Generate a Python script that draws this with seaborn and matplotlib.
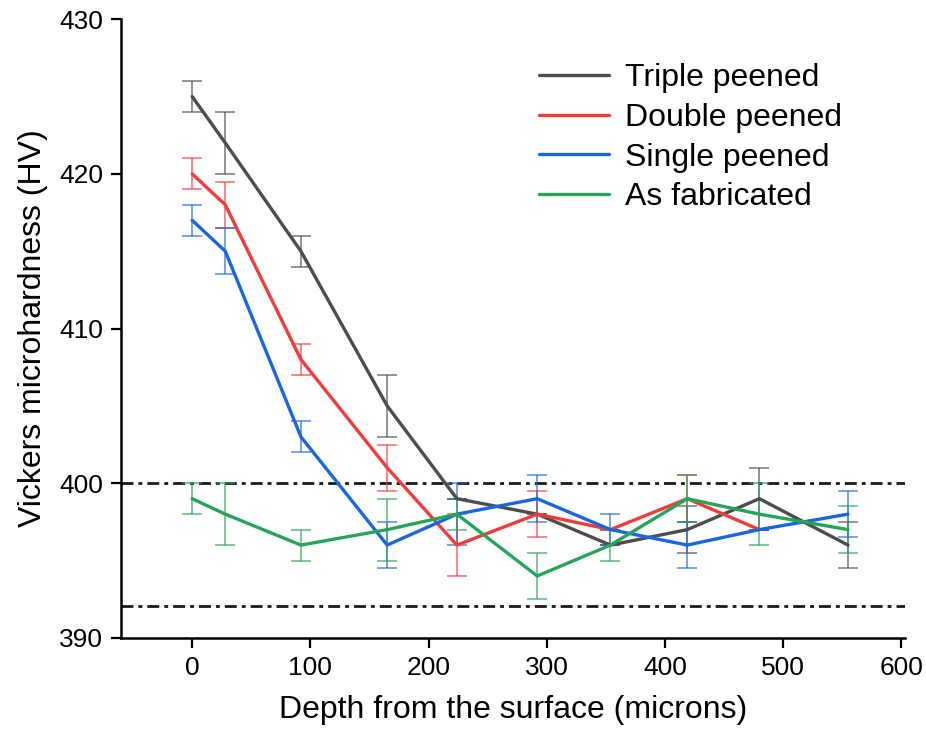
import numpy as np
import pandas as pd
import seaborn as sns
import matplotlib.pyplot as plt

sns.set_theme(style="ticks", rc={
    "text.color": "black", "axes.labelcolor": "black", "axes.edgecolor": "black",
    "xtick.color": "black", "ytick.color": "black",
})
plt.rcParams["font.family"] = ["Liberation Sans", "DejaVu Sans"]

# %% data
depth = [0, 28, 92, 165, 224, 292, 354, 419, 480, 555]

triple = [425, 422, 415, 405, 399, 398, 396, 397, 399, 396]
triple_err = [1, 2, 1, 2, 0, 0, 0, 1.5, 2, 1.5]

double = [420, 418, 408, 401, 396, 398, 397, 399, 397]
double_err = [1, 1.5, 1, 1.5, 2, 1.5, 0, 1.5, 0]

single = [417, 415, 403, 396, 398, 399, 397, 396, 397, 398]
single_err = [1, 1.5, 1, 1.5, 2, 1.5, 1, 1.5, 0, 1.5]

as_fab = [399, 398, 396, 397, 398, 394, 396, 399, 398, 397]
as_fab_err = [1, 2, 1, 2, 1, 1.5, 1, 1.5, 2, 1.5]

labels = ["Triple peened", "Double peened", "Single peened", "As fabricated"]
colors = ["#4d4d4d", "#f23c3c", "#1a66e0", "#28a45a"]
ref_lines = [400.0, 392.05]

series = [(triple, triple_err), (double, double_err), (single, single_err), (as_fab, as_fab_err)]

frames = []
for lab, (vals, errs) in zip(labels, series):
    frames.append(pd.DataFrame({
        "depth": depth[:len(vals)],
        "hv": vals,
        "err": errs,
        "treatment": lab,
    }))
df = pd.concat(frames, ignore_index=True)

# %%
fig, ax = plt.subplots(figsize=(9.26, 7.40), dpi=100)
fig.subplots_adjust(left=0.131, right=0.977, top=0.974, bottom=0.138)

for y in ref_lines:
    ax.axhline(y, color="k", lw=2.0, dashes=(4.3, 1.8, 1.4, 1.8), zorder=1)

sns.lineplot(
    data=df,
    x="depth",
    y="hv",
    hue="treatment",
    hue_order=labels,
    palette=colors,
    lw=2.4,
    ax=ax,
    zorder=3,
)

for lab, col in zip(labels, colors):
    d = df[df.treatment == lab]
    ax.errorbar(
        d.depth, d.hv, yerr=d.err, fmt="none",
        ecolor=col, alpha=0.65, elinewidth=1.3, capsize=7, capthick=1.3, zorder=2,
    )

ax.set_xlim(-60, 603)
ax.set_ylim(390, 430)
ax.set_xticks([0, 100, 200, 300, 400, 500, 600])
ax.set_yticks([390, 400, 410, 420, 430])
ax.tick_params(labelsize=19, width=1.6, length=7, direction="out", pad=6)
for s in ["left", "bottom"]:
    ax.spines[s].set_linewidth(1.8)
sns.despine(ax=ax)

ax.set_xlabel("Depth from the surface (microns)", fontsize=23, labelpad=11)
ax.set_ylabel("Vickers microhardness (HV)", fontsize=23, labelpad=8)

sns.move_legend(
    ax, "upper right", bbox_to_anchor=(0.957, 0.975), title=None, frameon=False,
    fontsize=23, handlelength=2.2, labelspacing=0.3, handletextpad=0.5,
)
for line in ax.get_legend().get_lines():
    line.set_linewidth(2.4)

fig.savefig("out.png", dpi=100)
